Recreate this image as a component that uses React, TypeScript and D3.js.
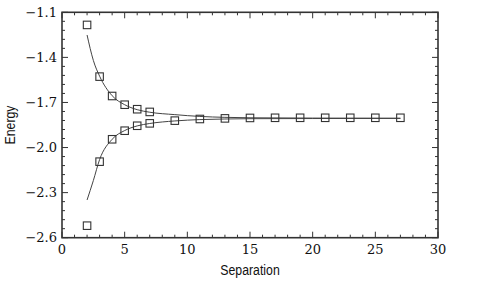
import * as d3 from 'd3'

// marker data
const upperX = [2, 3, 4, 5, 6, 7]
const upperY = [-1.184, -1.528, -1.657, -1.715, -1.745, -1.763]
const lowerX = [2, 3, 4, 5, 6, 7, 9, 11, 13, 15, 17, 19, 21, 23, 25, 27]
const lowerY = [-2.52, -2.094, -1.945, -1.888, -1.855, -1.839, -1.821, -1.81, -1.806, -1.803, -1.802, -1.802, -1.802, -1.802, -1.802, -1.802]

// fitted curves
const fitX = [2, 2.5, 3, 4, 5, 6, 7, 9, 11, 13, 15, 20, 27]
const fitUpper = [-1.251, -1.42, -1.525, -1.655, -1.715, -1.748, -1.765, -1.781, -1.793, -1.799, -1.802, -1.804, -1.805]
const fitLower = [-2.349, -2.22, -2.08, -1.945, -1.887, -1.856, -1.84, -1.823, -1.814, -1.81, -1.808, -1.807, -1.806]

const xTicks = [0, 5, 10, 15, 20, 25, 30]
const yTicks = [-1.1, -1.4, -1.7, -2.0, -2.3, -2.6]

const W = 488
const H = 294
const m = { left: 62, right: 50, top: 12.3, bottom: 56.3 }
const ink = '#333'

export default function App() {
  const x = d3.scaleLinear().domain([0, 30]).range([m.left, W - m.right])
  const y = d3.scaleLinear().domain([-2.6, -1.1]).range([H - m.bottom, m.top])
  const [x0, x1] = x.range()
  const [y0, y1] = y.range()

  const line = d3.line<[number, number]>()
    .x(d => x(d[0]))
    .y(d => y(d[1]))
    .curve(d3.curveMonotoneX)

  const xMinor = d3.range(0, 31, 1).filter(v => v % 5 !== 0)
  const yMinor = d3.range(0, 26).map(i => -2.6 + i * 0.06).filter((_, i) => i % 5 !== 0)

  const fmt = (v: number) => v.toFixed(1).replace('-', '\u2212')
  const sq = 7.5

  const markers = (xs: number[], ys: number[], key: string) =>
    xs.map((v, i) => (
      <rect key={key + i} x={x(v) - sq / 2} y={y(ys[i]) - sq / 2} width={sq} height={sq}
        fill="none" stroke={ink} strokeWidth={1.1} />
    ))

  // axis titles use a condensed sans look
  const squeeze = 0.82

  return (
    <svg width={W} height={H} style={{ position: 'absolute', left: 0, top: 0, background: '#fff' }}>
      <g stroke={ink} strokeWidth={1}>
        {xTicks.map(v => (
          <g key={'xt' + v}>
            <line x1={x(v)} x2={x(v)} y1={y0} y2={y0 - 6} />
            <line x1={x(v)} x2={x(v)} y1={y1} y2={y1 + 6} />
          </g>
        ))}
        {xMinor.map(v => (
          <g key={'xm' + v}>
            <line x1={x(v)} x2={x(v)} y1={y0} y2={y0 - 3} />
            <line x1={x(v)} x2={x(v)} y1={y1} y2={y1 + 3} />
          </g>
        ))}
        {yTicks.map(v => (
          <g key={'yt' + v}>
            <line x1={x0} x2={x0 + 6} y1={y(v)} y2={y(v)} />
            <line x1={x1} x2={x1 - 6} y1={y(v)} y2={y(v)} />
          </g>
        ))}
        {yMinor.map(v => (
          <g key={'ym' + v}>
            <line x1={x0} x2={x0 + 3} y1={y(v)} y2={y(v)} />
            <line x1={x1} x2={x1 - 3} y1={y(v)} y2={y(v)} />
          </g>
        ))}
      </g>
      <path d={line(fitX.map((v, i) => [v, fitUpper[i]]) as [number, number][]) ?? ''}
        fill="none" stroke="#444" strokeWidth={1} />
      <path d={line(fitX.map((v, i) => [v, fitLower[i]]) as [number, number][]) ?? ''}
        fill="none" stroke="#444" strokeWidth={1} />
      {markers(upperX, upperY, 'u')}
      {markers(lowerX, lowerY, 'l')}
      <rect x={x0} y={y1} width={x1 - x0} height={y0 - y1} fill="none" stroke={ink} strokeWidth={1.6} />
      <g fontFamily="'DejaVu Serif', 'Liberation Serif', serif" fontSize={13} fill="#111">
        {xTicks.map(v => (
          <text key={'xl' + v} x={x(v)} y={y0 + 16.5} textAnchor="middle">{v}</text>
        ))}
        {yTicks.map(v => (
          <text key={'yl' + v} x={x0 - 5} y={y(v) + 4.7} textAnchor="end">{fmt(v)}</text>
        ))}
      </g>
      <g fontFamily="'Liberation Sans', Arial, sans-serif" fontSize={15} fill="#111">
        <text transform={`translate(${(x0 + x1) / 2},274.5) scale(${squeeze},1)`} textAnchor="middle">Separation</text>
        <text transform={`translate(14.5,${(y0 + y1) / 2}) rotate(-90) scale(${squeeze},1)`} textAnchor="middle">Energy</text>
      </g>
    </svg>
  )
}
